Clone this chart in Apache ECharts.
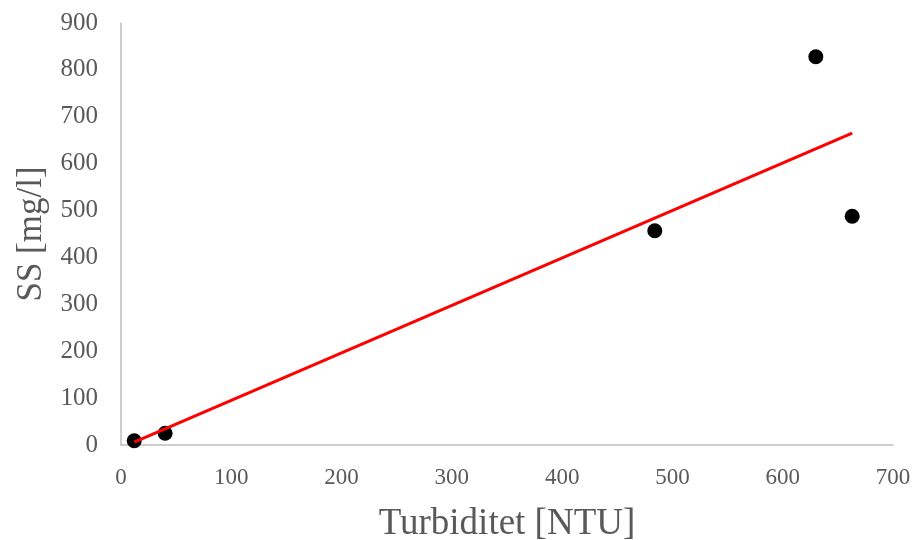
<!DOCTYPE html>
<html><head><meta charset="utf-8">
<script src="https://cdn.jsdelivr.net/npm/echarts@6/dist/echarts.min.js"></script>
<style>html,body{margin:0;padding:0;background:#fff}#c{width:916px;height:540px}</style>
</head><body><div id="c"></div>
<script>
const turbidity = [12, 40, 484, 630, 663];
const ss = [9, 25, 457, 828, 488];
const trendX = [12, 663];
const trendY = [6, 665];
const xTicks = [0, 100, 200, 300, 400, 500, 600, 700];
const yTicks = [0, 100, 200, 300, 400, 500, 600, 700, 800, 900];

const chart = echarts.init(document.getElementById('c'));
const font = 'Liberation Serif';
chart.setOption({
  animation: false,
  grid: {left: 121, right: 23, top: 23, bottom: 95, outerBoundsMode: 'none', containLabel: false},
  xAxis: {
    type: 'value', min: xTicks[0], max: xTicks[xTicks.length-1], interval: 100,
    name: 'Turbiditet [NTU]', nameLocation: 'middle', nameGap: 61,
    nameTextStyle: {fontFamily: font, fontSize: 37, color: '#595959'},
    axisLine: {lineStyle: {color: '#bfbfbf', width: 1.5}},
    axisTick: {show: false},
    splitLine: {show: false},
    axisLabel: {fontFamily: font, fontSize: 23, color: '#595959', margin: 21}
  },
  yAxis: {
    type: 'value', min: yTicks[0], max: yTicks[yTicks.length-1], interval: 100,
    name: 'SS [mg/l]', nameLocation: 'middle', nameGap: 72,
    nameTextStyle: {fontFamily: font, fontSize: 35, color: '#595959'},
    axisLine: {show: true, lineStyle: {color: '#bfbfbf', width: 1.5}},
    axisTick: {show: false},
    splitLine: {show: false},
    axisLabel: {fontFamily: font, fontSize: 25, color: '#595959', margin: 23}
  },
  series: [
    {
      type: 'line', data: trendX.map((x, i) => [x, trendY[i]]),
      showSymbol: false, lineStyle: {color: '#ff0000', width: 3}, z: 3
    },
    {
      type: 'scatter', data: turbidity.map((x, i) => [x, ss[i]]),
      symbolSize: 15, itemStyle: {color: '#000000', opacity: 1}, z: 2
    }
  ]
});
</script></body></html>
